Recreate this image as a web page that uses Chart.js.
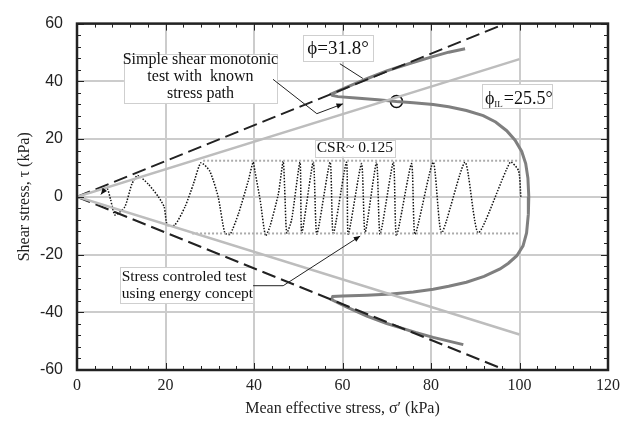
<!DOCTYPE html>
<html>
<head>
<meta charset="utf-8">
<script src="https://cdn.jsdelivr.net/npm/chart.js@4.4.0/dist/chart.umd.min.js"></script>
<style>
  html, body { margin: 0; padding: 0; background: #fff; }
  canvas { display: block; }
</style>
</head>
<body>
<canvas id="chart" width="631" height="423"></canvas>
<script>
// failure envelope (phi = 31.8) and instability line (phi_IL = 25.5)
const failureUpper = [[0, 0], [96.8, 60]];
const failureLower = [[0, 0], [96.8, -60]];
const instabilityUpper = [[0, 0], [100, 47.7]];
const instabilityLower = [[0, 0], [100, -47.7]];

// CSR ~ 0.125 limits
const csrUpper = [[28.5, 12.5], [100, 12.5]];
const csrLower = [[26, -12.7], [100, -12.7]];

// simple shear monotonic test (known stress path)
const monoX = [87.7, 84, 80, 75, 70, 65.5, 61, 57.5, 57.7, 59, 63, 68, 72.2, 76, 80.5, 84, 88, 91.8, 94.6, 97.1, 99, 100.5, 101.4, 101.9, 102.1,
  102, 101.6, 100.8, 99.4, 97.5, 95.6, 92, 88, 84, 80.5, 76, 71, 65.5, 60, 57.8, 57.5, 61, 65.5, 70, 73, 76.5, 80.5, 84, 87.3];
const monoY = [51.3, 50.1, 48.4, 46.1, 43.6, 40.9, 38, 35.6, 35.1, 34.7, 34.2, 33.6, 33.0, 32.6, 32.0, 31.2, 29.9, 28.1, 25.9, 22.9, 19.6, 15.7, 11.5, 6.5, 0,
  -6, -12.5, -17, -20.4, -23, -25, -27.6, -29.6, -31, -32, -33, -33.7, -34.1, -34.4, -34.5, -35.6, -38.2, -41.3, -43.9, -45.3, -47, -48.7, -50, -51.2];

// stress controlled cyclic test (energy concept)
const cyclicX = [5.6, 6.8, 7.6, 8.6, 10.8, 12.4, 13.7, 16.1, 18.4, 19.7, 20.4, 22.1, 24.4, 26.3, 28.0, 30.0, 31.9, 33.4, 34.6, 36.5,
  38.7, 39.8, 40.2, 41.4, 42.6, 43.6, 45.5, 46.6, 47.0, 47.4, 48.5, 50.4, 50.8, 53.4, 54.2, 57.2, 57.9, 60.9, 61.3, 64.3,
  65.1, 67.7, 68.5, 71.5, 72.2, 75.6, 76.4, 80.5, 82.4, 87.7, 90.7, 97.9, 99.8, 100.3];
const cyclicY = [2.5, 3.0, -1.0, -6.3, -3.5, 4.4, 7.4, 4.4, 0.0, -3.5, -9.8, -9.8, -3.5, 4.4, 11.8, 8.9, 0.0, -12.5, -13.0, -5.8,
  5.5, 12.0, 8.9, -1.2, -13.5, -10.3, 1.0, 12.3, 0.0, -12.5, -8.0, 12.0, -12.5, 12.0, -13.0, 12.0, -13.0, 12.0, -13.0, 11.5,
  -12.5, 12.0, -13.0, 12.0, -13.5, 11.5, -13.0, 12.0, -12.5, 12.0, -12.5, 12.0, 9.0, 0.0];

const marker = [[72.2, 33]];

const xTicks = [0, 20, 40, 60, 80, 100, 120];
const yTicks = [-60, -40, -20, 0, 20, 40, 60];

function pts(list) { return list.map(p => ({x: p[0], y: p[1]})); }
function zip(xs, ys) { return xs.map((v, i) => ({x: v, y: ys[i]})); }

const serif = "'Liberation Serif', 'Times New Roman', serif";
const sans = "'Liberation Sans', Arial, sans-serif";

// annotation boxes, in data units
const notes = [
  {box: [10.6, 49.5, 45.2, 32.5], lines: ['Simple shear monotonic', 'test with  known', 'stress path'], at: [27.9, 47.6], step: 5.9, align: 'center', size: 16},
  {box: [51.1, 55.9, 66.9, 46.8], lines: ['\u03d5=31.8\u00b0'], at: [59, 51.3], step: 0, align: 'center', size: 19},
  {box: [53.8, 19.7, 71.9, 13.9], lines: ['CSR~ 0.125'], at: [62.8, 16.8], step: 0, align: 'center', size: 15.5},
  {box: [9.7, -24.4, 39.8, -36.9], lines: ['Stress controled test', 'using energy concept'], at: [10.1, -27.6], step: 6.1, align: 'left', size: 15.5}
];
const leaders = [
  {path: [[44.3, 40.7], [54.2, 28.8], [60.1, 32.2]], arrow: true},
  {path: [[59.4, 46.1], [64.6, 41]], arrow: false},
  {path: [[39.8, -30.8], [46.6, -30.8], [64, -13.6]], arrow: true},
  {path: [[6.3, 2.6], [5.4, 0.8]], arrow: true}
];

function arrowHead(ctx, x0, y0, x1, y1, len) {
  const a = Math.atan2(y1 - y0, x1 - x0);
  ctx.beginPath();
  ctx.moveTo(x1, y1);
  ctx.lineTo(x1 - len * Math.cos(a - 0.4), y1 - len * Math.sin(a - 0.4));
  ctx.lineTo(x1 - len * Math.cos(a + 0.4), y1 - len * Math.sin(a + 0.4));
  ctx.closePath();
  ctx.fill();
}

function drawBox(ctx, x0, y0, x1, y1) {
  ctx.fillStyle = '#fff';
  ctx.fillRect(x0, y0, x1 - x0, y1 - y0);
  ctx.strokeStyle = '#cfcfcf';
  ctx.lineWidth = 1;
  ctx.strokeRect(Math.round(x0) + 0.5, Math.round(y0) + 0.5, Math.round(x1 - x0), Math.round(y1 - y0));
}

const overlay = {
  id: 'overlay',
  beforeDatasetsDraw(chart) {
    const {ctx, scales: {x, y}} = chart;
    ctx.save();
    notes.forEach(n => {
      drawBox(ctx, x.getPixelForValue(n.box[0]), y.getPixelForValue(n.box[1]),
        x.getPixelForValue(n.box[2]), y.getPixelForValue(n.box[3]));
      ctx.fillStyle = '#111';
      ctx.font = n.size + 'px ' + serif;
      ctx.textAlign = n.align;
      ctx.textBaseline = 'middle';
      n.lines.forEach((t, i) => {
        ctx.fillText(t, x.getPixelForValue(n.at[0]), y.getPixelForValue(n.at[1] - i * n.step));
      });
    });
    // phi_IL label with subscript
    const bx0 = x.getPixelForValue(91.5), by0 = y.getPixelForValue(39);
    drawBox(ctx, bx0, by0, x.getPixelForValue(107.3), y.getPixelForValue(30.8));
    ctx.fillStyle = '#111';
    ctx.textAlign = 'left';
    ctx.textBaseline = 'alphabetic';
    let cx = bx0 + 3;
    const base = y.getPixelForValue(31.6);
    ctx.font = '18px ' + serif;
    ctx.fillText('\u03d5', cx, base - 2); cx += ctx.measureText('\u03d5').width;
    ctx.font = '9px ' + serif;
    ctx.fillText('IL', cx, base + 1); cx += ctx.measureText('IL').width + 1;
    ctx.font = '18px ' + serif;
    ctx.fillText('=25.5\u00b0', cx, base - 2);
    ctx.restore();
  },
  afterDatasetsDraw(chart) {
    const {ctx, chartArea: a, scales: {x, y}} = chart;
    ctx.save();
    // leaders
    ctx.strokeStyle = '#222';
    ctx.fillStyle = '#111';
    ctx.lineWidth = 1;
    leaders.forEach(l => {
      const p = l.path.map(q => [x.getPixelForValue(q[0]), y.getPixelForValue(q[1])]);
      ctx.beginPath();
      p.forEach((q, i) => i ? ctx.lineTo(q[0], q[1]) : ctx.moveTo(q[0], q[1]));
      ctx.stroke();
      if (l.arrow) {
        const n = p.length;
        arrowHead(ctx, p[n - 2][0], p[n - 2][1], p[n - 1][0], p[n - 1][1], 7);
      }
    });
    // inward minor / major ticks on all four sides
    ctx.strokeStyle = '#222';
    ctx.lineWidth = 1;
    ctx.beginPath();
    for (let v = 0; v <= 120; v += 4) {
      const X = Math.round(x.getPixelForValue(v)) + 0.5;
      const len = v % 20 === 0 ? 7 : 4;
      ctx.moveTo(X, a.top); ctx.lineTo(X, a.top + len);
      ctx.moveTo(X, a.bottom); ctx.lineTo(X, a.bottom - len);
    }
    for (let v = -60; v <= 60; v += 4) {
      const Y = Math.round(y.getPixelForValue(v)) + 0.5;
      const len = v % 20 === 0 ? 7 : 4;
      ctx.moveTo(a.left, Y); ctx.lineTo(a.left + len, Y);
      ctx.moveTo(a.right, Y); ctx.lineTo(a.right - len, Y);
    }
    ctx.stroke();
    // frame
    ctx.strokeStyle = '#222';
    ctx.lineWidth = 2.5;
    ctx.strokeRect(a.left, a.top, a.right - a.left, a.bottom - a.top);
    ctx.restore();
  }
};

const line = (data, color, width, dash, extra) => Object.assign({
  data: data, showLine: true, borderColor: color, borderWidth: width, borderDash: dash,
  pointRadius: 0, fill: false, tension: 0
}, extra || {});

new Chart(document.getElementById('chart'), {
  type: 'scatter',
  data: {
    datasets: [
      line(pts(instabilityUpper), '#bdbdbd', 2.5, []),
      line(pts(instabilityLower), '#bdbdbd', 2.5, []),
      line(pts(csrUpper), '#ababab', 2, [2, 2]),
      line(pts(csrLower), '#ababab', 2, [2, 2]),
      line(zip(cyclicX, cyclicY), '#111', 1.5, [1.5, 1.5], {tension: 0.2}),
      line(pts(failureUpper), '#222', 2, [14, 6]),
      line(pts(failureLower), '#222', 2, [14, 6]),
      line(zip(monoX, monoY), '#7f7f7f', 3, []),
      {data: pts(marker), pointRadius: 6, pointBorderColor: '#111', pointBorderWidth: 1.6, pointBackgroundColor: 'rgba(0,0,0,0)', showLine: false}
    ]
  },
  options: {
    responsive: false,
    animation: false,
    devicePixelRatio: 1,
    layout: {padding: {top: 16, right: 23, left: 0, bottom: 0}},
    plugins: {legend: {display: false}, tooltip: {enabled: false}},
    scales: {
      x: {
        type: 'linear', min: 0, max: 120,
        afterBuildTicks: s => { s.ticks = xTicks.map(v => ({value: v})); },
        ticks: {font: {family: serif, size: 16}, color: '#222', padding: 6, maxRotation: 0},
        grid: {color: '#cccccc', lineWidth: 2, drawTicks: false},
        border: {display: false},
        title: {display: true, text: 'Mean effective stress, \u03c3\u2032 (kPa)', font: {family: serif, size: 16}, color: '#222', padding: {top: 0, bottom: 5}},
        afterFit: s => { s.height = 53; }
      },
      y: {
        type: 'linear', min: -60, max: 60,
        afterBuildTicks: s => { s.ticks = yTicks.map(v => ({value: v})); },
        ticks: {font: {family: sans, size: 16}, color: '#222', padding: 14},
        grid: {color: '#cccccc', lineWidth: 2, drawTicks: false},
        border: {display: false},
        title: {display: true, text: 'Shear stress, \u03c4 (kPa)', font: {family: serif, size: 16}, color: '#222', padding: {top: 15, bottom: 0}},
        afterFit: s => { s.width = 77; }
      }
    }
  },
  plugins: [overlay]
});
</script>
</body>
</html>
